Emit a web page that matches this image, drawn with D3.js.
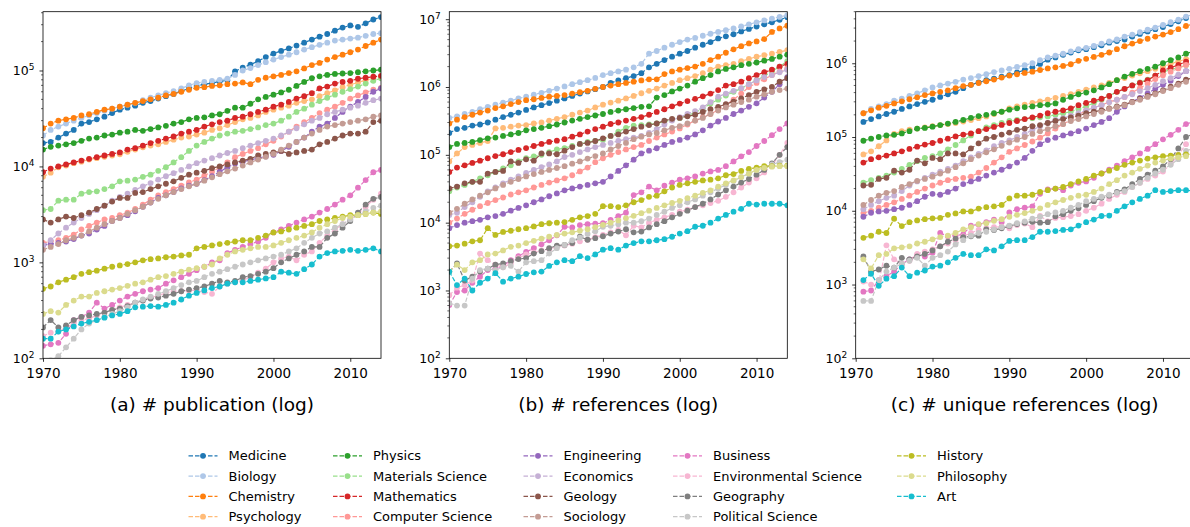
<!DOCTYPE html>
<html lang="en">
<head>
<meta charset="utf-8"/>
<title>Growth of fields</title>
<style>
    body { margin: 0; background: #fff; }
    svg { font-family: "DejaVu Sans", sans-serif; display: block; }
    .legend text { font-size: 13px; fill: #000; }
    .title { font-size: 18.5px; fill: #000; }
</style>
</head>
<body>
<div class="viz"></div>
<script src="https://cdnjs.cloudflare.com/ajax/libs/d3/7.8.5/d3.min.js"></script>
<script>

// fields in legend order, with their colours
var fields = ["Medicine", "Biology", "Chemistry", "Psychology", "Physics", "Materials Science",
    "Mathematics", "Computer Science", "Engineering", "Economics", "Geology", "Sociology",
    "Business", "Environmental Science", "Geography", "Political Science", "History",
    "Philosophy", "Art"];
var colors = ["#1f77b4", "#aec7e8", "#ff7f0e", "#ffbb78", "#2ca02c", "#98df8a", "#d62728",
    "#ff9896", "#9467bd", "#c5b0d5", "#8c564b", "#c49c94", "#e377c2", "#f7b6d2", "#7f7f7f",
    "#c7c7c7", "#bcbd22", "#dbdb8d", "#17becf"];

var yearsAB = [1970, 1971, 1972, 1973, 1974, 1975, 1976, 1977, 1978, 1979, 1980, 1981, 1982,
    1983, 1984, 1985, 1986, 1987, 1988, 1989, 1990, 1991, 1992, 1993, 1994, 1995, 1996, 1997,
    1998, 1999, 2000, 2001, 2002, 2003, 2004, 2005, 2006, 2007, 2008, 2009, 2010, 2011, 2012,
    2013, 2014];
var yearsC = [1971, 1972, 1973, 1974, 1975, 1976, 1977, 1978, 1979, 1980, 1981, 1982,
    1983, 1984, 1985, 1986, 1987, 1988, 1989, 1990, 1991, 1992, 1993, 1994, 1995, 1996, 1997,
    1998, 1999, 2000, 2001, 2002, 2003, 2004, 2005, 2006, 2007, 2008, 2009, 2010, 2011, 2012,
    2013, 2014];
var xTicks = [1970, 1980, 1990, 2000, 2010];

// (a) number of publications per year, one row per field (1970-2014)
var publications = [
    [1.75e4, 1.8e4, 2.0e4, 2.2e4, 2.4e4, 2.8e4, 2.9e4, 3.1e4, 3.3e4, 3.6e4, 3.9e4, 4.1e4, 4.3e4, 4.6e4, 4.8e4, 5.1e4, 5.4e4, 5.7e4, 6.1e4, 6.5e4, 6.9e4, 7.2e4, 7.4e4, 7.7e4, 7.9e4, 9.8e4, 1.07e5, 1.15e5, 1.25e5, 1.38e5, 1.5e5, 1.6e5, 1.7e5, 1.82e5, 1.95e5, 2.1e5, 2.25e5, 2.4e5, 2.6e5, 2.8e5, 2.95e5, 2.85e5, 3.1e5, 3.4e5, 3.6e5],
    [2.1e4, 2.4e4, 2.6e4, 2.8e4, 3.0e4, 3.2e4, 3.4e4, 3.6e4, 3.8e4, 4.0e4, 4.2e4, 4.4e4, 4.6e4, 4.9e4, 5.2e4, 5.5e4, 5.8e4, 6.1e4, 6.5e4, 7.0e4, 7.4e4, 7.6e4, 7.8e4, 8.0e4, 8.2e4, 9.0e4, 1.0e5, 1.06e5, 1.14e5, 1.22e5, 1.3e5, 1.38e5, 1.46e5, 1.55e5, 1.65e5, 1.75e5, 1.85e5, 1.95e5, 2.05e5, 2.1e5, 2.15e5, 2.2e5, 2.3e5, 2.4e5, 2.45e5],
    [2.5e4, 2.8e4, 3.0e4, 3.1e4, 3.2e4, 3.4e4, 3.5e4, 3.7e4, 3.9e4, 4.0e4, 4.2e4, 4.4e4, 4.6e4, 4.8e4, 5.0e4, 5.2e4, 5.5e4, 5.7e4, 6.0e4, 6.3e4, 6.6e4, 6.7e4, 6.9e4, 7.0e4, 7.2e4, 7.3e4, 7.5e4, 7.2e4, 8.0e4, 8.4e4, 8.7e4, 9.0e4, 9.4e4, 9.8e4, 1.05e5, 1.14e5, 1.2e5, 1.3e5, 1.38e5, 1.46e5, 1.55e5, 1.65e5, 1.8e5, 1.95e5, 2.1e5],
    [7.8e3, 8.6e3, 9.8e3, 1.02e4, 1.08e4, 1.12e4, 1.18e4, 1.22e4, 1.26e4, 1.3e4, 1.34e4, 1.42e4, 1.5e4, 1.58e4, 1.65e4, 1.7e4, 1.8e4, 1.9e4, 2.0e4, 2.05e4, 2.15e4, 2.25e4, 2.4e4, 2.5e4, 2.7e4, 2.9e4, 3.1e4, 3.2e4, 3.4e4, 3.7e4, 3.9e4, 4.1e4, 4.3e4, 4.6e4, 4.8e4, 5.0e4, 5.4e4, 5.8e4, 6.2e4, 6.7e4, 7.1e4, 7.5e4, 7.9e4, 8.3e4, 8.6e4],
    [1.5e4, 1.6e4, 1.65e4, 1.7e4, 1.75e4, 1.85e4, 1.95e4, 2.0e4, 2.1e4, 2.15e4, 2.25e4, 2.3e4, 2.4e4, 2.35e4, 2.45e4, 2.55e4, 2.65e4, 2.8e4, 2.9e4, 3.1e4, 3.2e4, 3.25e4, 3.4e4, 3.5e4, 3.8e4, 4.1e4, 4.1e4, 4.5e4, 5.0e4, 5.3e4, 5.6e4, 5.9e4, 6.3e4, 6.9e4, 7.6e4, 8.3e4, 8.7e4, 9.0e4, 9.2e4, 9.3e4, 9.4e4, 9.6e4, 9.8e4, 1.0e5, 1.02e5],
    [3.5e3, 3.6e3, 4.4e3, 4.5e3, 4.5e3, 5.2e3, 5.4e3, 5.5e3, 5.8e3, 6.2e3, 7.0e3, 7.1e3, 7.3e3, 7.8e3, 8.2e3, 9.0e3, 9.8e3, 1.1e4, 1.25e4, 1.45e4, 1.65e4, 1.8e4, 1.95e4, 2.1e4, 2.2e4, 2.3e4, 2.35e4, 2.45e4, 2.55e4, 2.7e4, 2.8e4, 3.0e4, 3.3e4, 3.7e4, 4.0e4, 4.4e4, 4.8e4, 5.2e4, 5.6e4, 6.0e4, 6.4e4, 6.8e4, 7.3e4, 7.8e4, 8.3e4],
    [8.7e3, 9.5e3, 1.0e4, 1.05e4, 1.1e4, 1.15e4, 1.2e4, 1.25e4, 1.3e4, 1.35e4, 1.4e4, 1.5e4, 1.55e4, 1.65e4, 1.75e4, 1.85e4, 1.95e4, 2.05e4, 2.2e4, 2.3e4, 2.4e4, 2.6e4, 2.75e4, 2.9e4, 3.0e4, 3.2e4, 3.3e4, 3.5e4, 3.7e4, 3.9e4, 4.2e4, 4.4e4, 4.7e4, 5.1e4, 5.4e4, 5.8e4, 6.5e4, 6.8e4, 7.3e4, 7.6e4, 7.8e4, 8.2e4, 8.4e4, 8.6e4, 8.8e4],
    [1.6e3, 1.65e3, 1.7e3, 1.8e3, 1.95e3, 2.2e3, 2.4e3, 2.6e3, 2.8e3, 2.9e3, 3.1e3, 3.3e3, 3.6e3, 4.0e3, 4.5e3, 5.0e3, 5.4e3, 5.8e3, 6.3e3, 6.8e3, 7.3e3, 8.0e3, 8.8e3, 9.8e3, 1.1e4, 1.25e4, 1.35e4, 1.45e4, 1.55e4, 1.7e4, 1.85e4, 2.05e4, 2.3e4, 2.6e4, 2.9e4, 3.2e4, 3.6e4, 3.9e4, 4.2e4, 4.6e4, 5.1e4, 5.5e4, 5.9e4, 6.3e4, 6.6e4],
    [1.5e3, 1.55e3, 1.6e3, 1.65e3, 1.75e3, 1.9e3, 2.0e3, 2.2e3, 2.4e3, 2.7e3, 2.9e3, 3.1e3, 3.4e3, 3.8e3, 4.2e3, 4.7e3, 5.0e3, 5.4e3, 5.9e3, 6.3e3, 6.6e3, 7.2e3, 7.9e3, 8.8e3, 9.8e3, 1.07e4, 1.12e4, 1.17e4, 1.22e4, 1.27e4, 1.32e4, 1.45e4, 1.6e4, 1.8e4, 2.0e4, 2.3e4, 2.6e4, 2.8e4, 3.2e4, 3.7e4, 4.2e4, 4.7e4, 5.3e4, 6.0e4, 6.5e4],
    [1.5e3, 1.7e3, 2.0e3, 2.3e3, 2.6e3, 2.9e3, 3.2e3, 3.5e3, 3.9e3, 4.4e3, 4.8e3, 5.2e3, 5.7e3, 6.2e3, 6.7e3, 7.3e3, 7.9e3, 8.5e3, 9.2e3, 1.0e4, 1.08e4, 1.15e4, 1.22e4, 1.3e4, 1.38e4, 1.45e4, 1.55e4, 1.65e4, 1.75e4, 1.85e4, 1.95e4, 2.1e4, 2.3e4, 2.5e4, 2.75e4, 3.0e4, 3.2e4, 3.5e4, 3.7e4, 3.9e4, 4.1e4, 4.3e4, 4.6e4, 4.9e4, 5.1e4],
    [2.8e3, 2.6e3, 2.8e3, 3.0e3, 2.9e3, 3.1e3, 3.3e3, 3.6e3, 3.9e3, 4.3e3, 4.7e3, 4.7e3, 5.3e3, 5.4e3, 5.8e3, 6.2e3, 6.6e3, 7.0e3, 7.6e3, 8.2e3, 8.6e3, 9.0e3, 9.6e3, 1.0e4, 1.05e4, 1.1e4, 1.15e4, 1.2e4, 1.3e4, 1.35e4, 1.4e4, 1.45e4, 1.35e4, 1.4e4, 1.45e4, 1.5e4, 1.7e4, 1.8e4, 1.95e4, 2.1e4, 2.2e4, 2.2e4, 2.3e4, 2.9e4, 3.0e4],
    [1.35e3, 1.45e3, 1.55e3, 1.7e3, 1.8e3, 1.9e3, 2.1e3, 2.3e3, 2.5e3, 2.7e3, 2.9e3, 3.2e3, 3.5e3, 3.8e3, 4.2e3, 4.6e3, 5.0e3, 5.4e3, 5.8e3, 6.2e3, 6.6e3, 7.1e3, 7.7e3, 8.3e3, 8.9e3, 9.5e3, 1.02e4, 1.1e4, 1.18e4, 1.26e4, 1.35e4, 1.5e4, 1.65e4, 1.8e4, 2.0e4, 2.2e4, 2.4e4, 2.6e4, 2.7e4, 2.8e4, 2.9e4, 3.0e4, 3.1e4, 3.3e4, 3.4e4],
    [135, 140, 145, 180, 250, 270, 300, 380, 330, 360, 400, 440, 470, 500, 520, 540, 600, 650, 700, 760, 830, 900, 1000, 1050, 1250, 1350, 1450, 1550, 1650, 1800, 2050, 2200, 2400, 2600, 2800, 3000, 3300, 3600, 4000, 4500, 5000, 6000, 7200, 8700, 9200],
    [170, 185, 190, 210, 230, 250, 260, 280, 300, 320, 340, 360, 380, 400, 430, 450, 480, 500, 500, 510, 510, 490, 470, 560, 600, 620, 650, 700, 780, 860, 1000, 1100, 1150, 1050, 1200, 1300, 1600, 1900, 2200, 2500, 2800, 3200, 3800, 4500, 5200],
    [210, 250, 210, 220, 250, 270, 280, 290, 300, 320, 330, 350, 380, 400, 420, 430, 450, 470, 500, 520, 540, 560, 600, 640, 620, 640, 700, 720, 760, 800, 870, 1000, 1100, 1200, 1300, 1450, 1450, 1800, 2000, 2300, 2700, 3300, 4000, 4600, 4800],
    [80, 95, 105, 130, 160, 200, 230, 250, 270, 290, 310, 340, 380, 410, 440, 470, 500, 540, 580, 620, 640, 700, 760, 800, 850, 900, 950, 1000, 1050, 1100, 1150, 1200, 1300, 1400, 1600, 1800, 2000, 2100, 2300, 2500, 2800, 3100, 3400, 3700, 3900],
    [530, 560, 620, 660, 700, 760, 790, 820, 860, 900, 930, 960, 1000, 1050, 1080, 1100, 1130, 1150, 1180, 1200, 1400, 1450, 1500, 1550, 1600, 1650, 1700, 1700, 1800, 1900, 2050, 2100, 2200, 2300, 2400, 2500, 2700, 2800, 2900, 3000, 3100, 3100, 3200, 3300, 3200],
    [290, 310, 300, 360, 400, 440, 440, 480, 500, 520, 540, 570, 600, 620, 660, 700, 720, 760, 800, 840, 870, 900, 950, 1100, 1200, 1300, 1350, 1400, 1450, 1450, 1500, 1600, 1700, 1800, 1900, 2050, 2300, 2500, 2700, 2900, 3000, 3100, 3200, 3300, 3400],
    [160, 160, 190, 200, 215, 230, 240, 250, 265, 280, 290, 310, 340, 345, 350, 345, 360, 380, 410, 450, 480, 510, 540, 560, 600, 620, 620, 640, 660, 680, 700, 800, 780, 760, 850, 950, 1150, 1250, 1300, 1320, 1350, 1320, 1350, 1400, 1300]
];

// (b) number of references per year (1970-2014)
var references = [
    [2.1e5, 2.4e5, 2.5e5, 2.7e5, 2.8e5, 3.0e5, 3.3e5, 3.6e5, 3.9e5, 4.2e5, 4.6e5, 5.0e5, 5.4e5, 5.8e5, 6.3e5, 6.8e5, 7.4e5, 8.0e5, 8.6e5, 9.3e5, 1.0e6, 1.15e6, 1.25e6, 1.35e6, 1.45e6, 1.6e6, 1.95e6, 2.2e6, 2.5e6, 2.8e6, 3.1e6, 3.4e6, 3.8e6, 4.2e6, 4.6e6, 5.2e6, 5.6e6, 6.0e6, 6.6e6, 7.2e6, 7.8e6, 8.4e6, 9.0e6, 9.8e6, 1.07e7],
    [3.5e5, 3.7e5, 4.0e5, 4.3e5, 4.7e5, 5.1e5, 5.5e5, 5.9e5, 6.3e5, 6.8e5, 7.2e5, 7.7e5, 8.2e5, 8.8e5, 9.5e5, 1.02e6, 1.1e6, 1.18e6, 1.26e6, 1.36e6, 1.5e6, 1.6e6, 1.7e6, 1.8e6, 1.95e6, 2.2e6, 3.1e6, 3.4e6, 3.8e6, 4.2e6, 4.6e6, 5.0e6, 5.3e6, 5.7e6, 6.1e6, 6.5e6, 6.9e6, 7.3e6, 7.8e6, 8.4e6, 9.0e6, 9.6e6, 1.02e7, 1.08e7, 1.15e7],
    [2.9e5, 3.3e5, 3.6e5, 3.9e5, 4.2e5, 4.5e5, 4.9e5, 5.2e5, 5.6e5, 6.0e5, 6.4e5, 6.6e5, 6.9e5, 7.2e5, 7.4e5, 7.6e5, 8.0e5, 8.4e5, 8.8e5, 9.4e5, 1.0e6, 1.05e6, 1.1e6, 1.15e6, 1.2e6, 1.25e6, 1.3e6, 1.3e6, 1.55e6, 1.7e6, 1.8e6, 1.9e6, 2.0e6, 2.2e6, 2.5e6, 2.8e6, 3.2e6, 3.6e6, 4.0e6, 4.4e6, 4.7e6, 5.1e6, 6.5e6, 7.3e6, 8.0e6],
    [8.0e4, 1.05e5, 1.3e5, 1.4e5, 1.5e5, 1.6e5, 2.45e5, 2.5e5, 2.6e5, 2.7e5, 2.75e5, 2.9e5, 3.0e5, 3.2e5, 3.4e5, 3.6e5, 3.9e5, 4.2e5, 4.5e5, 5.0e5, 5.5e5, 5.9e5, 6.3e5, 6.8e5, 7.4e5, 8.1e5, 8.8e5, 9.5e5, 1.05e6, 1.15e6, 1.26e6, 1.35e6, 1.45e6, 1.6e6, 1.8e6, 2.0e6, 2.1e6, 2.2e6, 2.4e6, 2.6e6, 2.8e6, 2.95e6, 3.1e6, 3.3e6, 3.5e6],
    [1.3e5, 1.45e5, 1.5e5, 1.55e5, 1.65e5, 1.75e5, 1.8e5, 1.9e5, 2.0e5, 2.1e5, 2.3e5, 2.4e5, 2.5e5, 2.65e5, 2.8e5, 3.0e5, 3.2e5, 3.4e5, 3.6e5, 3.8e5, 4.0e5, 4.3e5, 4.5e5, 4.7e5, 4.9e5, 5.1e5, 5.2e5, 7.0e5, 7.6e5, 8.6e5, 9.5e5, 1.05e6, 1.2e6, 1.35e6, 1.5e6, 1.7e6, 1.85e6, 1.95e6, 2.1e6, 2.2e6, 2.3e6, 2.45e6, 2.6e6, 2.8e6, 3.0e6],
    [2.9e4, 3.3e4, 3.6e4, 4.0e4, 4.5e4, 5.0e4, 5.6e4, 6.3e4, 7.0e4, 8.0e4, 8.9e4, 9.5e4, 1.0e5, 1.1e5, 1.2e5, 1.26e5, 1.35e5, 1.45e5, 1.55e5, 1.6e5, 1.66e5, 1.9e5, 2.2e5, 2.5e5, 2.7e5, 2.75e5, 2.8e5, 2.9e5, 3.1e5, 3.3e5, 3.5e5, 3.8e5, 4.2e5, 4.8e5, 5.7e5, 6.5e5, 7.5e5, 8.5e5, 9.5e5, 1.1e6, 1.26e6, 1.45e6, 1.7e6, 2.0e6, 2.4e6],
    [5.6e4, 6.5e4, 7.0e4, 7.6e4, 8.2e4, 8.9e4, 9.6e4, 1.02e5, 1.1e5, 1.18e5, 1.26e5, 1.35e5, 1.45e5, 1.55e5, 1.62e5, 1.7e5, 1.85e5, 2.0e5, 2.2e5, 2.4e5, 2.6e5, 2.85e5, 3.0e5, 3.2e5, 3.4e5, 3.6e5, 3.9e5, 4.3e5, 4.7e5, 5.2e5, 5.7e5, 6.2e5, 6.7e5, 7.3e5, 8.0e5, 9.0e5, 1.05e6, 1.1e6, 1.2e6, 1.35e6, 1.5e6, 1.65e6, 1.8e6, 2.0e6, 2.2e6],
    [1.0e4, 1.15e4, 1.35e4, 1.55e4, 1.75e4, 1.95e4, 2.15e4, 2.35e4, 2.6e4, 2.8e4, 3.0e4, 3.3e4, 3.6e4, 3.9e4, 4.2e4, 4.5e4, 5.0e4, 5.7e4, 6.5e4, 7.8e4, 8.9e4, 1.0e5, 1.1e5, 1.2e5, 1.3e5, 1.4e5, 1.6e5, 1.8e5, 2.0e5, 2.2e5, 2.45e5, 2.8e5, 3.2e5, 3.6e5, 4.0e5, 4.6e5, 5.5e5, 6.5e5, 8.0e5, 1.0e6, 1.15e6, 1.3e6, 1.5e6, 1.7e6, 1.9e6],
    [8.3e3, 9.2e3, 1.0e4, 1.05e4, 1.1e4, 1.2e4, 1.25e4, 1.35e4, 1.5e4, 1.65e4, 1.8e4, 2.0e4, 2.2e4, 2.45e4, 2.7e4, 3.0e4, 3.2e4, 3.4e4, 3.6e4, 3.8e4, 4.0e4, 4.8e4, 5.8e4, 7.0e4, 8.5e4, 1.05e5, 1.15e5, 1.25e5, 1.4e5, 1.55e5, 1.66e5, 1.8e5, 2.0e5, 2.3e5, 2.7e5, 3.1e5, 3.5e5, 4.0e5, 4.5e5, 5.1e5, 5.75e5, 7.0e5, 8.5e5, 1.1e6, 1.4e6],
    [1.3e4, 1.4e4, 1.7e4, 2.0e4, 2.4e4, 2.9e4, 3.3e4, 3.8e4, 4.3e4, 4.8e4, 5.4e4, 6.0e4, 6.6e4, 7.2e4, 8.0e4, 9.3e4, 1.0e5, 1.1e5, 1.2e5, 1.3e5, 1.4e5, 1.5e5, 1.6e5, 1.7e5, 1.8e5, 1.9e5, 2.1e5, 2.4e5, 2.8e5, 3.2e5, 3.6e5, 4.0e5, 4.4e5, 5.0e5, 6.0e5, 7.2e5, 8.0e5, 8.8e5, 9.6e5, 1.1e6, 1.25e6, 1.4e6, 1.5e6, 1.65e6, 1.8e6],
    [3.2e4, 3.4e4, 3.8e4, 4.0e4, 4.0e4, 5.3e4, 5.6e4, 5.8e4, 8.0e4, 7.6e4, 8.6e4, 8.2e4, 1.05e5, 1.05e5, 1.02e5, 1.15e5, 1.3e5, 1.45e5, 1.5e5, 1.6e5, 1.75e5, 1.9e5, 2.0e5, 2.2e5, 2.4e5, 2.6e5, 2.75e5, 2.9e5, 3.2e5, 3.4e5, 3.5e5, 3.7e5, 3.9e5, 4.3e5, 4.7e5, 5.1e5, 5.6e5, 6.1e5, 6.8e5, 7.6e5, 8.5e5, 9.2e5, 1.0e6, 1.2e6, 1.35e6],
    [1.4e4, 1.6e4, 1.9e4, 2.2e4, 2.5e4, 2.8e4, 3.2e4, 3.6e4, 4.0e4, 4.4e4, 4.8e4, 5.2e4, 5.6e4, 6.0e4, 6.4e4, 6.8e4, 7.4e4, 8.0e4, 8.8e4, 9.6e4, 1.05e5, 1.2e5, 1.35e5, 1.5e5, 1.7e5, 1.85e5, 2.0e5, 2.1e5, 2.3e5, 2.5e5, 2.65e5, 2.9e5, 3.2e5, 3.5e5, 4.0e5, 4.5e5, 5.0e5, 5.5e5, 6.0e5, 6.5e5, 7.2e5, 7.8e5, 8.5e5, 9.0e5, 9.5e5],
    [610, 950, 1000, 1300, 1600, 2000, 2100, 2300, 2800, 3200, 3700, 4200, 4800, 5500, 6500, 8700, 8500, 9200, 9500, 9700, 9800, 1.1e4, 1.25e4, 1.4e4, 2.55e4, 2.8e4, 3.4e4, 3.0e4, 3.5e4, 3.9e4, 4.3e4, 4.5e4, 4.8e4, 5.3e4, 5.7e4, 6.0e4, 6.8e4, 8.0e4, 9.5e4, 1.1e5, 1.35e5, 1.6e5, 1.95e5, 2.4e5, 2.9e5],
    [850, 1100, 1200, 1400, 3500, 2800, 2400, 2200, 2500, 3000, 3400, 3600, 3900, 4100, 4400, 4600, 4900, 5300, 5600, 6100, 6600, 7200, 7800, 6500, 9000, 8500, 1.0e4, 1.1e4, 1.2e4, 1.3e4, 1.45e4, 1.55e4, 1.7e4, 1.8e4, 1.95e4, 2.1e4, 2.4e4, 2.8e4, 3.3e4, 3.9e4, 4.5e4, 5.5e4, 7.0e4, 1.0e5, 1.5e5],
    [1900, 2500, 1400, 1600, 1900, 2100, 2400, 2500, 2700, 2900, 3000, 3500, 3800, 4200, 4600, 4700, 5000, 6200, 5600, 5900, 6300, 6900, 7400, 8000, 7200, 7400, 8500, 9500, 1.05e4, 1.2e4, 1.35e4, 1.5e4, 1.7e4, 1.9e4, 2.2e4, 2.6e4, 3.0e4, 3.4e4, 3.9e4, 4.4e4, 5.1e4, 6.0e4, 7.5e4, 1.0e5, 1.3e5],
    [650, 600, 600, 1500, 2000, 2100, 2000, 2200, 2300, 1900, 2600, 2700, 2800, 3500, 4200, 4700, 5500, 6000, 6800, 7500, 8700, 9000, 9500, 1.0e4, 1.0e4, 1.05e4, 1.15e4, 1.3e4, 1.45e4, 1.65e4, 1.8e4, 2.0e4, 2.2e4, 2.5e4, 2.8e4, 3.2e4, 3.6e4, 4.1e4, 4.7e4, 5.3e4, 6.0e4, 6.6e4, 7.2e4, 7.8e4, 8.5e4],
    [4500, 4600, 4900, 5300, 5500, 8300, 6600, 7300, 7600, 8000, 8300, 8800, 9500, 9800, 1.0e4, 1.02e4, 1.1e4, 1.2e4, 1.25e4, 1.35e4, 1.75e4, 1.75e4, 1.7e4, 1.8e4, 2.0e4, 2.15e4, 2.4e4, 2.5e4, 2.9e4, 3.3e4, 3.6e4, 3.8e4, 4.0e4, 4.2e4, 4.3e4, 4.5e4, 5.0e4, 5.2e4, 5.8e4, 6.2e4, 6.5e4, 6.8e4, 6.8e4, 6.9e4, 6.9e4],
    [1900, 2400, 2000, 2600, 2800, 3400, 3500, 3900, 4400, 4600, 5000, 5400, 5800, 6200, 6600, 6900, 7200, 7600, 8000, 8600, 9300, 1.0e4, 1.08e4, 1.17e4, 1.26e4, 1.38e4, 1.5e4, 1.65e4, 1.8e4, 1.95e4, 2.1e4, 2.3e4, 2.5e4, 2.75e4, 3.0e4, 3.4e4, 3.8e4, 4.2e4, 4.7e4, 5.3e4, 6.0e4, 6.4e4, 6.7e4, 6.8e4, 6.8e4],
    [1900, 1200, 1500, 1000, 1300, 1500, 1800, 1350, 1500, 1600, 1750, 1850, 1900, 2300, 2600, 2800, 2700, 3200, 3000, 3400, 4000, 4200, 4000, 4600, 5000, 5300, 5300, 5500, 5700, 6200, 6900, 7500, 8700, 9000, 1.0e4, 1.15e4, 1.3e4, 1.45e4, 1.6e4, 1.9e4, 1.85e4, 1.9e4, 1.9e4, 1.9e4, 1.8e4]
];

// (c) number of unique references per year (1971-2014)
var uniqueRefs = [
    [1.6e5, 1.75e5, 1.9e5, 2.05e5, 2.2e5, 2.4e5, 2.6e5, 2.8e5, 3.0e5, 3.2e5, 3.5e5, 3.8e5, 4.1e5, 4.6e5, 5.1e5, 5.5e5, 5.9e5, 6.2e5, 6.6e5, 6.9e5, 7.5e5, 8.1e5, 8.8e5, 9.8e5, 1.12e6, 1.2e6, 1.3e6, 1.4e6, 1.5e6, 1.55e6, 1.65e6, 1.75e6, 1.9e6, 2.0e6, 2.1e6, 2.3e6, 2.5e6, 2.7e6, 2.9e6, 3.1e6, 3.4e6, 3.7e6, 4.1e6, 4.4e6],
    [2.1e5, 2.4e5, 2.6e5, 2.8e5, 3.1e5, 3.3e5, 3.6e5, 3.9e5, 4.3e5, 4.7e5, 5.0e5, 5.3e5, 5.6e5, 6.0e5, 6.3e5, 6.7e5, 7.1e5, 7.6e5, 8.0e5, 8.4e5, 8.9e5, 9.4e5, 1.0e6, 1.1e6, 1.2e6, 1.27e6, 1.35e6, 1.45e6, 1.55e6, 1.62e6, 1.72e6, 1.85e6, 1.98e6, 2.1e6, 2.3e6, 2.45e6, 2.65e6, 2.85e6, 3.05e6, 3.3e6, 3.6e6, 3.9e6, 4.3e6, 4.6e6],
    [2.1e5, 2.3e5, 2.5e5, 2.65e5, 2.85e5, 3.05e5, 3.25e5, 3.45e5, 3.7e5, 3.9e5, 4.1e5, 4.3e5, 4.6e5, 4.9e5, 5.1e5, 5.4e5, 5.7e5, 6.0e5, 6.4e5, 6.8e5, 7.1e5, 7.4e5, 7.7e5, 8.1e5, 8.5e5, 8.8e5, 9.2e5, 9.7e5, 1.08e6, 1.15e6, 1.22e6, 1.3e6, 1.4e6, 1.55e6, 1.7e6, 1.85e6, 2.0e6, 2.15e6, 2.3e6, 2.45e6, 2.65e6, 2.9e6, 3.2e6, 3.4e6],
    [5.8e4, 6.4e4, 7.5e4, 9.0e4, 1.1e5, 1.2e5, 1.26e5, 1.3e5, 1.35e5, 1.4e5, 1.45e5, 1.5e5, 1.55e5, 1.62e5, 1.7e5, 1.8e5, 1.9e5, 2.05e5, 2.2e5, 2.45e5, 2.6e5, 2.75e5, 2.9e5, 3.05e5, 3.2e5, 3.4e5, 3.6e5, 3.8e5, 4.1e5, 4.4e5, 4.7e5, 5.0e5, 5.4e5, 5.9e5, 6.3e5, 6.8e5, 7.3e5, 7.8e5, 8.4e5, 9.0e5, 9.8e5, 1.06e6, 1.14e6, 1.2e6],
    [8.9e4, 9.5e4, 1.0e5, 1.05e5, 1.07e5, 1.12e5, 1.2e5, 1.3e5, 1.33e5, 1.38e5, 1.45e5, 1.52e5, 1.6e5, 1.7e5, 1.82e5, 1.92e5, 2.0e5, 2.1e5, 2.2e5, 2.35e5, 2.45e5, 2.55e5, 2.6e5, 2.7e5, 2.75e5, 2.85e5, 3.2e5, 3.5e5, 3.8e5, 4.0e5, 4.3e5, 4.7e5, 5.2e5, 5.9e5, 6.6e5, 7.2e5, 7.8e5, 8.4e5, 9.0e5, 1.0e6, 1.1e6, 1.2e6, 1.35e6, 1.45e6],
    [2.4e4, 2.6e4, 2.8e4, 3.0e4, 3.3e4, 3.7e4, 4.2e4, 4.7e4, 5.2e4, 5.5e4, 6.0e4, 6.8e4, 7.8e4, 9.0e4, 1.05e5, 1.2e5, 1.35e5, 1.45e5, 1.55e5, 1.65e5, 1.7e5, 1.75e5, 1.8e5, 1.85e5, 1.9e5, 2.0e5, 2.1e5, 2.2e5, 2.4e5, 2.6e5, 2.9e5, 3.2e5, 3.6e5, 4.1e5, 4.5e5, 5.0e5, 5.5e5, 6.0e5, 6.8e5, 7.6e5, 8.2e5, 8.8e5, 9.5e5, 1.0e6],
    [4.5e4, 5.0e4, 5.3e4, 5.6e4, 6.0e4, 6.4e4, 6.9e4, 7.4e4, 7.9e4, 8.3e4, 8.9e4, 9.5e4, 1.02e5, 1.08e5, 1.12e5, 1.2e5, 1.28e5, 1.37e5, 1.46e5, 1.55e5, 1.65e5, 1.75e5, 1.85e5, 1.95e5, 2.1e5, 2.2e5, 2.3e5, 2.45e5, 2.7e5, 2.9e5, 3.1e5, 3.3e5, 3.6e5, 4.1e5, 4.5e5, 5.0e5, 5.4e5, 5.9e5, 6.8e5, 8.0e5, 8.7e5, 9.5e5, 1.05e6, 1.12e6],
    [9.3e3, 1.0e4, 1.1e4, 1.2e4, 1.3e4, 1.45e4, 1.6e4, 1.8e4, 2.0e4, 2.2e4, 2.4e4, 2.6e4, 2.7e4, 2.8e4, 2.9e4, 3.3e4, 3.8e4, 4.5e4, 5.3e4, 6.3e4, 7.0e4, 7.8e4, 8.7e4, 9.8e4, 1.12e5, 1.3e5, 1.5e5, 1.7e5, 2.0e5, 2.3e5, 2.5e5, 2.7e5, 3.0e5, 3.2e5, 3.5e5, 4.0e5, 4.6e5, 5.3e5, 6.1e5, 6.9e5, 7.7e5, 8.5e5, 9.5e5, 1.0e6],
    [8.3e3, 9.4e3, 9.8e3, 1.0e4, 1.05e4, 1.1e4, 1.2e4, 1.35e4, 1.55e4, 1.7e4, 1.65e4, 1.8e4, 2.0e4, 2.3e4, 2.5e4, 2.7e4, 3.0e4, 3.3e4, 3.6e4, 4.0e4, 4.5e4, 5.2e4, 6.5e4, 8.0e4, 9.1e4, 9.8e4, 1.05e5, 1.12e5, 1.2e5, 1.3e5, 1.45e5, 1.6e5, 1.8e5, 2.2e5, 2.6e5, 3.0e5, 3.4e5, 3.9e5, 4.5e5, 5.1e5, 5.8e5, 6.7e5, 7.8e5, 8.5e5],
    [1.05e4, 1.2e4, 1.35e4, 1.5e4, 1.6e4, 1.85e4, 2.2e4, 2.5e4, 2.8e4, 3.1e4, 3.4e4, 3.7e4, 4.1e4, 4.7e4, 5.3e4, 5.9e4, 6.6e4, 7.5e4, 8.3e4, 9.0e4, 1.0e5, 1.1e5, 1.25e5, 1.4e5, 1.55e5, 1.7e5, 1.8e5, 1.95e5, 2.1e5, 2.3e5, 2.5e5, 2.7e5, 2.95e5, 3.2e5, 3.5e5, 3.8e5, 4.2e5, 4.6e5, 5.1e5, 5.7e5, 6.3e5, 7.0e5, 7.8e5, 8.3e5],
    [2.2e4, 2.25e4, 2.7e4, 2.8e4, 3.5e4, 3.3e4, 3.6e4, 4.8e4, 4.4e4, 5.2e4, 5.0e4, 6.0e4, 6.0e4, 5.8e4, 7.0e4, 8.2e4, 9.5e4, 1.0e5, 1.08e5, 1.15e5, 1.25e5, 1.3e5, 1.4e5, 1.45e5, 1.55e5, 1.65e5, 1.75e5, 1.85e5, 1.95e5, 2.1e5, 2.2e5, 2.3e5, 2.45e5, 2.6e5, 2.75e5, 3.0e5, 3.3e5, 3.6e5, 3.9e5, 4.3e5, 4.8e5, 5.3e5, 6.0e5, 6.4e5],
    [1.2e4, 1.4e4, 1.6e4, 1.75e4, 1.85e4, 2.1e4, 2.3e4, 2.55e4, 2.7e4, 2.9e4, 3.2e4, 3.5e4, 3.9e4, 4.4e4, 5.0e4, 5.6e4, 6.2e4, 6.8e4, 7.6e4, 8.4e4, 9.2e4, 1.0e5, 1.1e5, 1.2e5, 1.28e5, 1.4e5, 1.5e5, 1.65e5, 1.75e5, 1.9e5, 2.05e5, 2.2e5, 2.4e5, 2.55e5, 2.7e5, 2.95e5, 3.2e5, 3.5e5, 3.8e5, 4.2e5, 4.6e5, 5.1e5, 5.6e5, 6.0e5],
    [800, 830, 1150, 1300, 1500, 1900, 2200, 2500, 2400, 2700, 5000, 4500, 4600, 4800, 6300, 6500, 7000, 7600, 7000, 9500, 1.05e4, 1.1e4, 1.15e4, 1.7e4, 1.95e4, 2.0e4, 1.9e4, 2.2e4, 2.4e4, 2.5e4, 2.8e4, 3.2e4, 3.6e4, 4.1e4, 4.7e4, 5.3e4, 6.0e4, 6.9e4, 8.0e4, 9.3e4, 1.07e5, 1.25e5, 1.5e5, 1.6e5],
    [1100, 1000, 1050, 3400, 2200, 1900, 2100, 2600, 2800, 3000, 3300, 3600, 4000, 4500, 5000, 5500, 5800, 6000, 6100, 5800, 6400, 6700, 6000, 8500, 7200, 8000, 8200, 8500, 9000, 1.0e4, 1.1e4, 1.25e4, 1.45e4, 1.65e4, 1.8e4, 2.1e4, 2.4e4, 2.7e4, 3.0e4, 3.4e4, 4.3e4, 5.7e4, 8.0e4, 9.0e4],
    [2400, 1500, 1600, 1800, 1700, 2300, 2200, 2400, 2600, 2900, 3300, 3800, 4200, 4400, 4500, 4600, 5600, 5500, 5800, 6200, 6600, 6900, 7100, 6900, 7000, 8400, 9000, 1.0e4, 1.08e4, 1.2e4, 1.35e4, 1.5e4, 1.6e4, 1.8e4, 1.95e4, 2.3e4, 2.7e4, 3.1e4, 3.5e4, 4.0e4, 5.0e4, 7.0e4, 1.0e5, 1.1e5],
    [600, 600, 1150, 1500, 1700, 1900, 2100, 2300, 1800, 2300, 2500, 2800, 3500, 4000, 4600, 5000, 5200, 5600, 6000, 6300, 6800, 7200, 7800, 8300, 9000, 9500, 1.0e4, 1.1e4, 1.2e4, 1.35e4, 1.45e4, 1.55e4, 1.65e4, 1.75e4, 1.85e4, 2.1e4, 2.4e4, 2.8e4, 3.2e4, 3.6e4, 4.2e4, 5.0e4, 6.5e4, 7.0e4],
    [4300, 4600, 5200, 5000, 7800, 6200, 7000, 7400, 7700, 7900, 8000, 8800, 9200, 9800, 9800, 1.07e4, 1.12e4, 1.15e4, 1.2e4, 1.47e4, 1.6e4, 1.6e4, 1.65e4, 1.8e4, 1.9e4, 2.0e4, 2.1e4, 2.3e4, 2.5e4, 2.7e4, 3.0e4, 3.2e4, 3.5e4, 3.8e4, 4.2e4, 4.5e4, 4.8e4, 5.1e4, 5.3e4, 5.5e4, 5.6e4, 5.7e4, 5.8e4, 5.8e4],
    [2200, 1650, 2500, 2600, 3100, 3200, 3300, 3600, 3800, 4100, 4400, 4600, 5000, 5600, 6000, 6600, 6800, 7300, 7700, 8300, 8800, 9300, 1.0e4, 1.08e4, 1.2e4, 1.3e4, 1.4e4, 1.5e4, 1.6e4, 1.65e4, 1.8e4, 2.0e4, 2.3e4, 2.6e4, 3.0e4, 3.3e4, 3.7e4, 4.1e4, 4.5e4, 4.8e4, 5.1e4, 5.3e4, 5.5e4, 5.6e4],
    [1150, 1400, 960, 1200, 1300, 1700, 1300, 1450, 1550, 1750, 1800, 2000, 2300, 2600, 2500, 2500, 3000, 2900, 3300, 3900, 4000, 4000, 4400, 5200, 5200, 5300, 5500, 5600, 6300, 7000, 7600, 8500, 8600, 1.0e4, 1.15e4, 1.3e4, 1.45e4, 1.6e4, 1.9e4, 1.8e4, 1.85e4, 1.9e4, 1.9e4, 1.85e4]
];

var width = 1190, height = 527;
var plotTop = 11.7, plotBottom = 358.3, plotWidth = 338;

var panels = [
    {rows: publications, years: yearsAB, title: "(a) # publication (log)", left: 43, yMax: 4.1e5},
    {rows: references, years: yearsAB, title: "(b) # references (log)", left: 449.3, yMax: 1.29e7},
    {rows: uniqueRefs, years: yearsC, title: "(c) # unique references (log)", left: 855.7, yMax: 5.0e6}
];

var svg = d3.select(".viz").append("svg")
    .attr("width", width)
    .attr("height", height);

var defs = svg.append("defs");

panels.forEach(function(p, i) {
    var x = d3.scaleLinear().domain([1970, 2014]).range([p.left, p.left + plotWidth]);
    var y = d3.scaleLog().domain([100, p.yMax]).range([plotBottom, plotTop]);

    defs.append("clipPath").attr("id", "clip" + i)
        .append("rect")
        .attr("x", p.left).attr("y", plotTop)
        .attr("width", plotWidth).attr("height", plotBottom - plotTop);

    var g = svg.append("g").attr("class", "panel");
    var plot = g.append("g").attr("clip-path", "url(#clip" + i + ")");

    var line = d3.line()
        .x(function(d, j) { return x(p.years[j]); })
        .y(function(d) { return y(d); });

    p.rows.forEach(function(vals, s) {
        plot.append("path")
            .datum(vals)
            .attr("d", line)
            .attr("fill", "none")
            .attr("stroke", colors[s])
            .attr("stroke-width", 1.2)
            .attr("stroke-dasharray", "4.5,2");
        plot.append("g").selectAll("circle")
            .data(vals)
            .enter().append("circle")
            .attr("cx", function(d, j) { return x(p.years[j]); })
            .attr("cy", function(d) { return y(d); })
            .attr("r", 2.9)
            .attr("fill", colors[s]);
    });

    // frame
    g.append("rect")
        .attr("x", p.left).attr("y", plotTop)
        .attr("width", plotWidth).attr("height", plotBottom - plotTop)
        .attr("fill", "none")
        .attr("stroke", "#000")
        .attr("stroke-width", 0.8);

    // x axis
    var xAxis = g.append("g")
        .attr("transform", "translate(0," + plotBottom + ")")
        .call(d3.axisBottom(x).tickValues(xTicks).tickSize(3.5).tickPadding(7).tickFormat(d3.format("d")));
    xAxis.select(".domain").remove();
    xAxis.selectAll("text").attr("font-size", 13.5).attr("font-family", "DejaVu Sans").attr("fill", "#000");
    xAxis.selectAll("line").attr("stroke-width", 0.8);

    // y axis, major ticks at decades and minor ticks between them
    var majors = [], minors = [];
    for (var k = 2; Math.pow(10, k) <= p.yMax; k++) {
        majors.push(Math.pow(10, k));
        for (var m = 2; m <= 9; m++) {
            if (m * Math.pow(10, k) <= p.yMax) minors.push(m * Math.pow(10, k));
        }
    }
    var yAxis = g.append("g")
        .attr("transform", "translate(" + p.left + ",0)")
        .call(d3.axisLeft(y).tickValues(majors).tickSize(3.5).tickFormat(""));
    yAxis.select(".domain").remove();
    yAxis.selectAll("line").attr("stroke-width", 0.8);

    g.append("g").selectAll("line")
        .data(minors)
        .enter().append("line")
        .attr("x1", p.left - 2).attr("x2", p.left)
        .attr("y1", function(d) { return y(d); })
        .attr("y2", function(d) { return y(d); })
        .attr("stroke", "#000")
        .attr("stroke-width", 0.6);

    var labels = g.append("g").selectAll("text")
        .data(majors)
        .enter().append("text")
        .attr("x", p.left - 8.5)
        .attr("y", function(d) { return y(d) + 4.4; })
        .attr("text-anchor", "end")
        .attr("font-size", 12.5)
        .attr("fill", "#000");
    labels.append("tspan").text("10");
    labels.append("tspan")
        .attr("font-size", 9)
        .attr("dy", -4.8)
        .text(function(d) { return Math.round(Math.log10(d)); });

    g.append("text")
        .attr("class", "title")
        .attr("x", p.left + plotWidth / 2)
        .attr("y", 411)
        .attr("text-anchor", "middle")
        .text(p.title);
});

// legend, 4 rows per column
var legendCols = [188.5, 333, 523.5, 673, 897];
var legendTop = 455.8, legendStep = 20.3, handleLen = 29;

var legend = svg.append("g").attr("class", "legend");
var items = legend.selectAll("g")
    .data(fields)
    .enter().append("g")
    .attr("transform", function(d, i) {
        return "translate(" + legendCols[Math.floor(i / 4)] + "," + (legendTop + (i % 4) * legendStep) + ")";
    });

items.append("line")
    .attr("x1", 0).attr("x2", handleLen)
    .attr("stroke", function(d, i) { return colors[i]; })
    .attr("stroke-width", 1.2)
    .attr("stroke-dasharray", "4.5,2");
items.append("circle")
    .attr("cx", handleLen / 2)
    .attr("r", 2.9)
    .attr("fill", function(d, i) { return colors[i]; });
items.append("text")
    .attr("x", 40)
    .attr("dy", "0.36em")
    .text(function(d) { return d; });

</script>
</body>
</html>
